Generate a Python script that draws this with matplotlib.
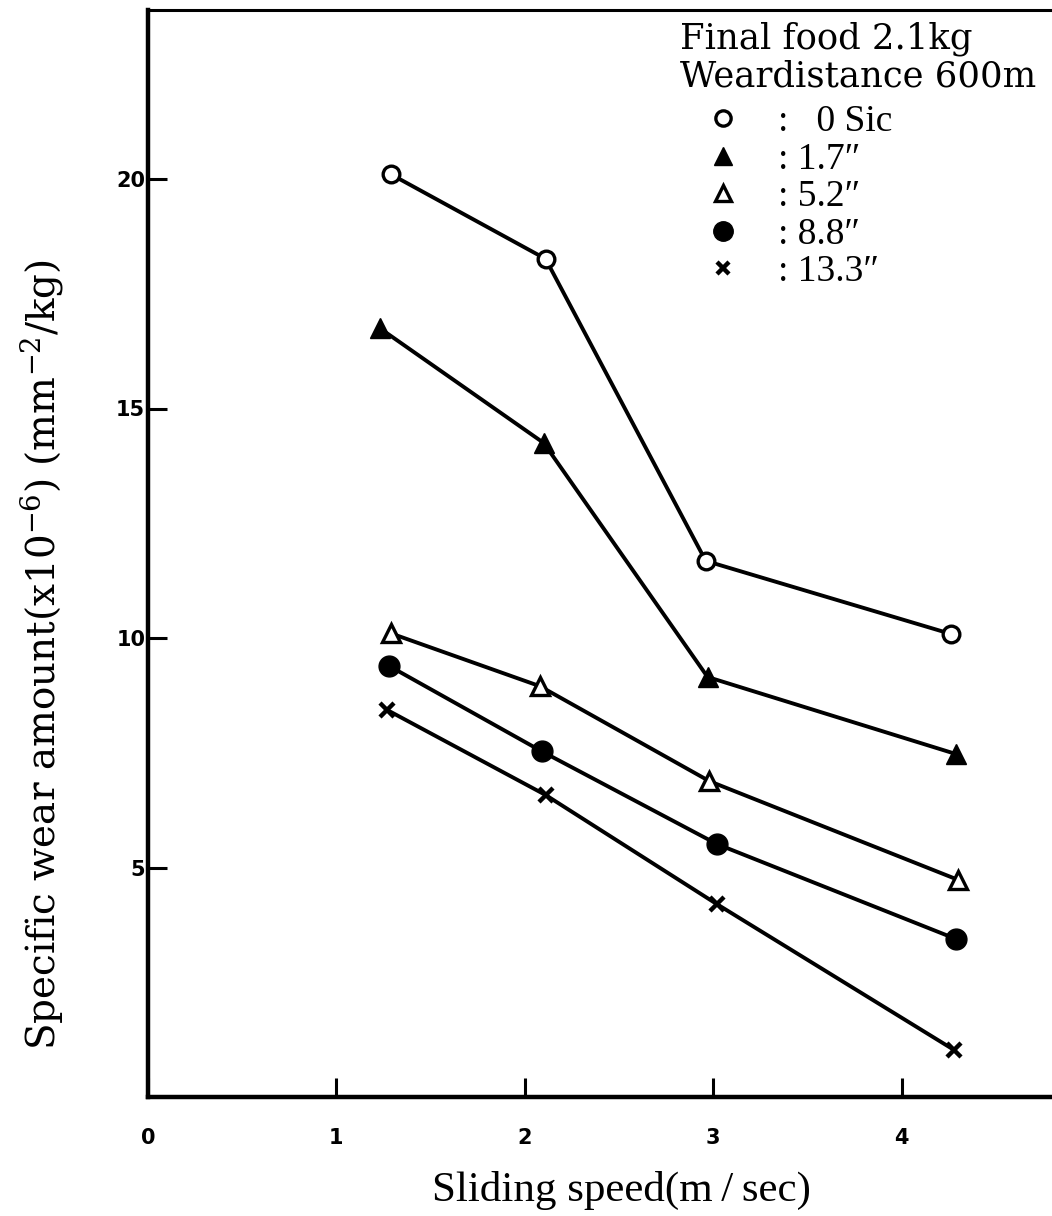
import matplotlib
matplotlib.use("Agg")
import matplotlib.pyplot as plt
from matplotlib.lines import Line2D

# ---- data ----
x_0sic  = [1.29, 2.11, 2.96, 4.26]
y_0sic  = [20.1, 18.26, 11.68, 10.09]
x_17    = [1.23, 2.10, 2.97, 4.29]
y_17    = [16.75, 14.25, 9.15, 7.47]
x_52    = [1.29, 2.08, 2.98, 4.30]
y_52    = [10.1, 8.95, 6.88, 4.73]
x_88    = [1.28, 2.09, 3.02, 4.29]
y_88    = [9.39, 7.53, 5.51, 3.44]
x_133   = [1.27, 2.11, 3.02, 4.28]
y_133   = [8.43, 6.58, 4.20, 1.02]

x_ticks = [0, 1, 2, 3, 4]
y_ticks = [5, 10, 15, 20]
labels = [":   0 Sic", ": 1.7\u2033", ": 5.2\u2033", ": 8.8\u2033", ": 13.3\u2033"]
legend_title = "Final food 2.1kg\nWeardistance 600m"

plt.rcParams['mathtext.fontset'] = 'dejavuserif'

serif = ['Liberation Serif', 'DejaVu Serif']
wide_serif = ['DejaVu Serif']

fig = plt.figure(figsize=(10.52, 12.16), dpi=100)
ax = fig.add_axes([148/1052, 1 - 1097/1216, 1 - 148/1052, (1097 - 10)/1216])

lw = 2.8
ax.plot(x_0sic, y_0sic, color='black', lw=lw, marker='o', ms=12, mfc='white', mec='black', mew=2.4, zorder=3)
ax.plot(x_17, y_17, color='black', lw=lw, marker='^', ms=15, mfc='black', mec='black', zorder=3)
ax.plot(x_52, y_52, color='black', lw=lw, marker='^', ms=13, mfc='white', mec='black', mew=2.4, zorder=3)
ax.plot(x_88, y_88, color='black', lw=lw, marker='o', ms=15, mfc='black', mec='black', zorder=3)
ax.plot(x_133, y_133, color='black', lw=lw, marker='x', ms=10, mec='black', mew=3.2, zorder=3)

ax.set_xlim(0, 902/188)
ax.set_ylim(0, (1097 - 10)/45.9)

ax.set_xticks(x_ticks)
ax.set_xticklabels([str(t) for t in x_ticks], fontsize=15, fontweight='bold', family='DejaVu Sans')
ax.set_yticks(y_ticks)
ax.set_yticklabels([str(t) for t in y_ticks], fontsize=15, fontweight='bold', family='DejaVu Sans')
ax.tick_params(axis='both', direction='in', length=14, width=2.2, colors='black')
ax.tick_params(axis='x', pad=22)
ax.tick_params(axis='y', pad=2)

for s in ['left', 'bottom']:
    ax.spines[s].set_linewidth(3.2)
ax.spines['top'].set_linewidth(2.2)
ax.spines['right'].set_visible(False)

ax.set_xlabel("Sliding speed(m\u2009/\u2009sec)", fontsize=31, family=serif)
ax.xaxis.set_label_coords((621 - 148)/904, (1097 - 1190)/1087)
ax.xaxis.label.set_va('center')

ax.set_ylabel(r"Specific wear amount(x10$^{-6}$) (mm$^{-2}$/kg)", fontsize=28, family=wide_serif)
ax.yaxis.set_label_coords((42 - 148)/904, 1 - (655 - 10)/1087)
ax.yaxis.label.set_va('center')

handles = [
    Line2D([], [], ls='none', marker='o', ms=11, mfc='white', mec='black', mew=2.4),
    Line2D([], [], ls='none', marker='^', ms=13, mfc='black', mec='black'),
    Line2D([], [], ls='none', marker='^', ms=11, mfc='white', mec='black', mew=2.4),
    Line2D([], [], ls='none', marker='o', ms=14, mfc='black', mec='black'),
    Line2D([], [], ls='none', marker='x', ms=9, mec='black', mew=3.2),
]
leg = ax.legend(handles, labels, title=legend_title, loc='upper left',
                bbox_to_anchor=((680 - 148)/904, 1 - (22 - 10)/1087),
                frameon=False, alignment='left', handlelength=2.3, handletextpad=0.3,
                labelspacing=0.08, borderpad=0.0, borderaxespad=0.0,
                prop={'family': serif, 'size': 27},
                title_fontproperties={'family': wide_serif, 'size': 25.5})
leg._legend_box.sep = 8
leg.get_title().set_linespacing(1.12)

fig.savefig("out.png", dpi=100, facecolor='white')
